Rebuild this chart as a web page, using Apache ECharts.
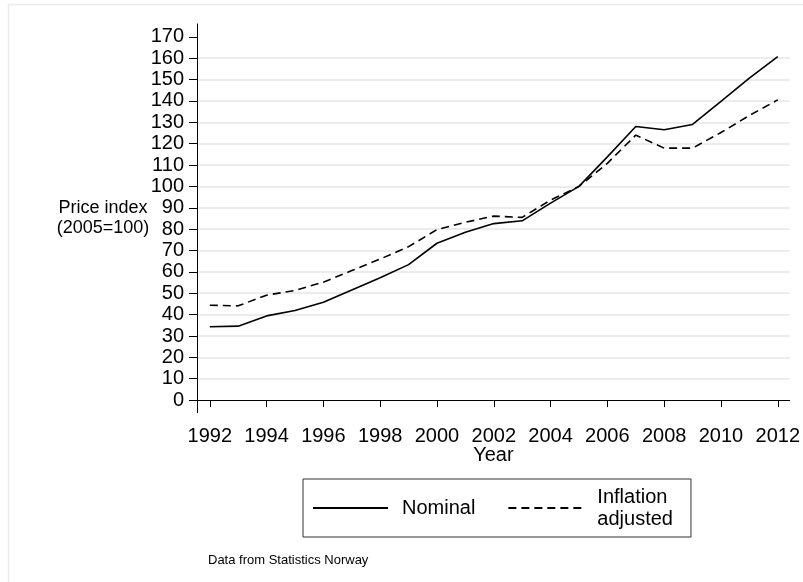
<!DOCTYPE html>
<html><head><meta charset="utf-8">
<script src="https://cdn.jsdelivr.net/npm/echarts@6/dist/echarts.min.js"></script>
<style>html,body{margin:0;padding:0;background:#fff}#c{width:803px;height:582px}</style>
</head><body><div id="c"></div>
<script>
const years = [1992,1993,1994,1995,1996,1997,1998,1999,2000,2001,2002,2003,2004,2005,2006,2007,2008,2009,2010,2011,2012];
const nominal = [34.3,34.6,39.4,41.9,45.8,51.5,57.3,63.4,73.4,78.5,82.6,83.9,92.2,100,113.8,128,126.5,129,139.8,150.7,160.7];
const inflationAdjusted = [44.4,44.1,49.1,51.3,55.2,60.6,66,71.8,79.8,83.2,86.1,85.5,93.6,100,110.8,124,117.9,117.9,125.2,133.2,140.5];
const yTicks = [0,10,20,30,40,50,60,70,80,90,100,110,120,130,140,150,160,170];
const yGrid = [10,20,30,40,50,60,70,80,90,100,110,120,130,140,150,160];
const xTicks = [1992,1994,1996,1998,2000,2002,2004,2006,2008,2010,2012];
const seriesNames = ['Nominal','Inflation\nadjusted'];

const FONT = 'Liberation Sans, Arial, sans-serif';
const chart = echarts.init(document.getElementById('c'), null, {renderer:'canvas'});
chart.setOption({
  animation:false,
  backgroundColor:'#fff',
  textStyle:{fontFamily:FONT},
  graphic:[{type:'rect',shape:{x:8.5,y:4.5,width:1000,height:1000},style:{fill:'none',stroke:'#ececec',lineWidth:1.5},silent:true}],
  title:{text:'Data from Statistics Norway',left:203,top:549,textStyle:{fontSize:13,fontWeight:'normal',color:'#000',fontFamily:FONT}},
  grid:{left:197,right:11,top:24,bottom:169.3,containLabel:false},
  legend:{
    left:303,top:479,orient:'horizontal',
    borderColor:'#333',borderWidth:1,
    padding:[7,18,7,9],
    itemWidth:75,itemHeight:14,itemGap:32,
    itemStyle:{opacity:0},
    textStyle:{fontSize:20,color:'#000',fontFamily:FONT,lineHeight:22,padding:[0,0,0,9]},
    data:seriesNames
  },
  xAxis:{
    type:'value',min:1991.55,max:2012.42,
    name:'Year',nameLocation:'middle',nameGap:33,nameMoveOverlap:false,
    nameTextStyle:{fontSize:20,color:'#000',fontFamily:FONT},
    axisLine:{lineStyle:{color:'#000',width:1}},
    axisTick:{length:7,lineStyle:{color:'#000'},customValues:xTicks},
    axisLabel:{fontSize:20,color:'#000',margin:14,customValues:xTicks,formatter:v=>String(v)},
    splitLine:{show:false}
  },
  yAxis:[{
    type:'value',min:-5.9,max:176,
    name:'Price index\n(2005=100)',nameLocation:'middle',nameRotate:0,nameGap:94,nameMoveOverlap:false,
    nameTextStyle:{fontSize:18,color:'#000',align:'center',verticalAlign:'middle',fontFamily:FONT,lineHeight:20},
    axisLine:{show:true,lineStyle:{color:'#000',width:1}},
    axisTick:{length:8,lineStyle:{color:'#000'},customValues:yTicks},
    axisLabel:{fontSize:20,color:'#000',margin:13,customValues:yTicks,formatter:v=>String(v)},
    splitLine:{show:false}
  },{
    type:'value',min:-5.9,max:176,position:'left',
    axisLine:{show:false},
    axisTick:{show:false,customValues:yGrid},
    axisLabel:{show:false,customValues:yGrid},
    splitLine:{show:true,lineStyle:{color:'#e6e6e6',width:1.5}}
  }],
  series:[
    {name:seriesNames[0],type:'line',data:years.map((y,i)=>[y,nominal[i]]),symbol:'circle',showSymbol:false,
     lineStyle:{color:'#000',width:1.6,type:'solid'},itemStyle:{color:'#000'},z:3},
    {name:seriesNames[1],type:'line',data:years.map((y,i)=>[y,inflationAdjusted[i]]),symbol:'circle',showSymbol:false,
     lineStyle:{color:'#000',width:1.6,type:[8,5]},itemStyle:{color:'#000'},z:3}
  ]
});
</script></body></html>
